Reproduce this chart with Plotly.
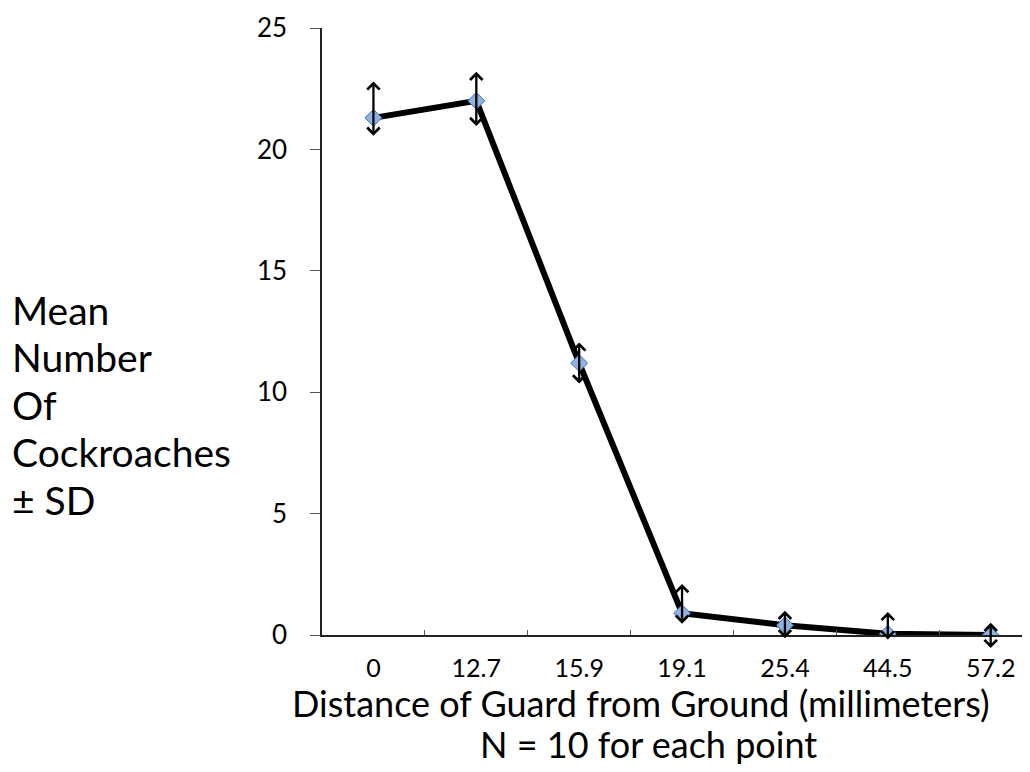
import plotly.graph_objects as go

categories = ["0", "12.7", "15.9", "19.1", "25.4", "44.5", "57.2"]
means = [21.3, 22.0, 11.2, 0.9, 0.4, 0.05, 0.0]
sd_up = [1.5, 1.2, 0.85, 1.2, 0.6, 0.9, 0.5]
sd_down = [0.8, 1.1, 0.9, 0.5, 0.6, 0.3, 0.6]
y_ticks = [0, 5, 10, 15, 20, 25]
y_title_lines = ["Mean", "Number", "Of", "Cockroaches", "± SD"]
x_title = "Distance of Guard from Ground (millimeters)"
x_subtitle = "N = 10 for each point"

FONT = "Lato"
PW, PH = 716, 607  # plot area size in px


def px_x(xp):
    return (xp - 322) / PW


def px_y(yp):
    return (635 - yp) / PH


fig = go.Figure()
fig.add_trace(go.Scatter(
    x=categories, y=means, mode="lines+markers",
    line=dict(color="black", width=6),
    marker=dict(symbol="diamond", size=13, color="#8fb3e0",
                line=dict(color="#3f6fb0", width=1)),
    showlegend=False,
))

annotations = []
for i, (m, u, d) in enumerate(zip(means, sd_up, sd_down)):
    annotations.append(dict(
        x=i, y=m + u, ax=i, ay=m - d, xref="x", yref="y", axref="x", ayref="y",
        showarrow=True, arrowhead=4, startarrowhead=4, arrowside="end+start",
        arrowsize=1.05, startarrowsize=1.05, arrowwidth=2.3, arrowcolor="black", text="",
    ))

line_y0 = 310
for k, t in enumerate(y_title_lines):
    ypix = line_y0 + k * 47.5
    annotations.append(dict(
        text=t, xref="paper", yref="paper",
        x=px_x(10), y=px_y(ypix),
        xanchor="left", yanchor="middle", showarrow=False,
        font=dict(family=FONT, size=39, color="black"),
    ))

annotations.append(dict(
    text=x_title, xref="paper", yref="paper",
    x=px_x(641), y=px_y(703), xanchor="center", yanchor="middle",
    showarrow=False, font=dict(family=FONT, size=36, color="black"),
))
annotations.append(dict(
    text=x_subtitle, xref="paper", yref="paper",
    x=px_x(648), y=px_y(744), xanchor="center", yanchor="middle",
    showarrow=False, font=dict(family=FONT, size=36, color="black"),
))

fig.update_layout(
    width=1030, height=772,
    margin=dict(l=314, r=0, t=20, b=145),
    paper_bgcolor="white", plot_bgcolor="white",
    annotations=annotations,
    xaxis=dict(
        type="category", range=[-0.5, 6.46],
        showline=True, linecolor="#222", linewidth=1.5,
        ticks="inside", tickson="boundaries", ticklen=5, tickcolor="#555",
        showgrid=False, zeroline=False,
        tickfont=dict(family=FONT, size=25, color="black"),
        ticklabelstandoff=10,
    ),
    yaxis=dict(
        range=[0, 25], tickvals=y_ticks,
        showline=True, linecolor="#222", linewidth=1.5,
        ticks="outside", ticklen=10, tickcolor="#555",
        showgrid=False, zeroline=False,
        tickfont=dict(family=FONT, size=26, color="black"),
        ticklabelstandoff=18,
    ),
)

fig.write_html("out.html")
